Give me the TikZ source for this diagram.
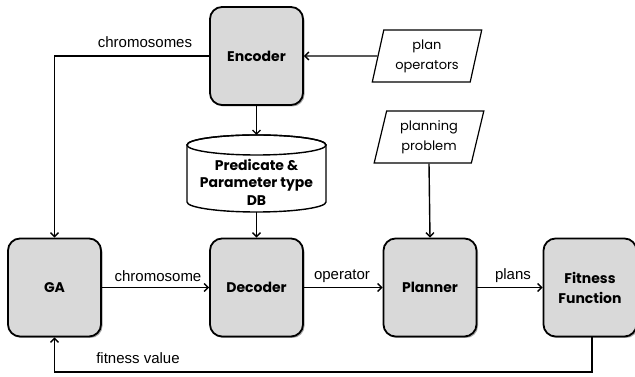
\documentclass[tikz,border=0pt]{standalone}
\usepackage{fontspec}
\setmainfont{Liberation Sans}
\newfontfamily\gfont{Poppins}
\usetikzlibrary{arrows.meta,shapes.geometric,shadows}
\definecolor{boxgray}{HTML}{D9D9D9}
\tikzset{
  procbox/.style={draw=black, line width=1.8pt, fill=boxgray, rounded corners=12pt,
    minimum width=93pt, minimum height=98pt, align=center, inner sep=2pt,
    font=\gfont\bfseries\fontsize{14}{20}\selectfont,
    drop shadow={shadow xshift=1.5pt, shadow yshift=-1.5pt, opacity=0.35, fill=black}},
  iobox/.style={draw=black, line width=1.2pt, trapezium, trapezium left angle=76,
    trapezium right angle=104, trapezium stretches=true, minimum width=110pt,
    minimum height=52pt, align=center, inner sep=1pt,
    font=\gfont\fontsize{13}{20}\selectfont},
  conn/.style={line width=1.4pt, -{Straight Barb[length=4pt,width=8pt,line width=1.4pt]}},
  plainline/.style={line width=1.4pt},
  lbl/.style={font=\fontsize{15}{18}\selectfont, inner sep=0pt}
}
\begin{document}
\begin{tikzpicture}[x=1pt,y=1pt]
\useasboundingbox (0,0) rectangle (635,377);
% process boxes
\node[procbox] (enc) at (256.5,321) {Encoder};
\node[procbox] (ga) at (54.5,89.5) {GA};
\node[procbox] (dec) at (256.5,89.5) {Decoder};
\node[procbox] (plan) at (430,89.5) {Planner};
\node[procbox] (fit) at (590,89.5) {Fitness\\Function};
% inputs
\node[iobox] (ops) at (427,321) {plan\\operators};
\node[iobox] (prob) at (429,240) {planning\\problem};
% database cylinder
\draw[line width=1.4pt, fill=white] (187,232) -- (187,175) arc[start angle=180, end angle=360, x radius=69.5pt, y radius=10pt] -- (326,232) arc[start angle=0, end angle=180, x radius=69.5pt, y radius=10pt] -- cycle;
\draw[line width=1.4pt] (256.5,232) ellipse[x radius=69.5pt, y radius=10pt];
\coordinate (dbtop) at (256.5,242);
\coordinate (dbbot) at (256.5,165);
\node[align=center, font=\gfont\bfseries\fontsize{14}{17.5}\selectfont, inner sep=0pt] (db) at (256.5,195) {Predicate \&\\Parameter type\\DB};
% connectors
\draw[conn] (ops.west) -- (enc.east);
\coordinate (c1) at (54.5,321);
\draw[conn] (enc.west) -- (c1) -- (ga.north);
\draw[conn] (enc.south) -- (dbtop);
\draw[conn] (dbbot) -- (dec.north);
\draw[conn] (prob.south) -- (plan.north);
\draw[conn] (ga.east) -- (dec.west);
\draw[conn] (dec.east) -- (plan.west);
\draw[conn] (plan.east) -- (fit.west);
\coordinate (c2) at (592,5);
\coordinate (c3) at (54.5,5);
\draw[conn] (fit.south -| c2) -- (c2) -- (c3) -- (ga.south);
% labels
\node[lbl] (l1) at (145,335) {chromosomes};
\node[lbl] (l2) at (158,101) {chromosome};
\node[lbl] (l3) at (342,101) {operator};
\node[lbl] (l4) at (513,101) {plans};
\node[lbl] (l5) at (138,19) {fitness value};
\end{tikzpicture}
\end{document}
